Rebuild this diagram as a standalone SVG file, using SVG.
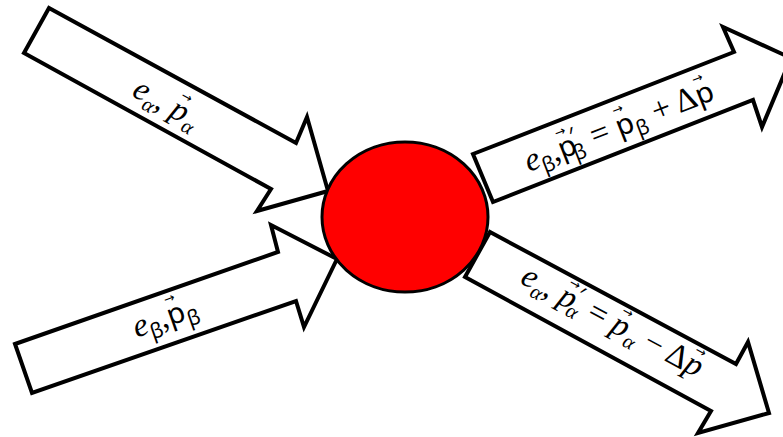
<svg xmlns="http://www.w3.org/2000/svg" width="783" height="437" viewBox="0 0 783 437">
<style>
.arr{fill:#fff;stroke:#000;stroke-width:4;stroke-linejoin:miter;stroke-miterlimit:10}
.lbl{font-family:"Liberation Serif","DejaVu Serif",serif;font-size:33px;fill:#000}
.it{font-style:italic}
.up{font-family:"Noto Sans","Open Sans",sans-serif;font-style:normal;font-size:29px}
.sub{font-size:21px}
.vec{font-family:"DejaVu Sans",sans-serif;font-style:normal;font-size:13px}
.pr{font-family:"Noto Sans",sans-serif;font-style:normal;font-size:23px}
</style>
<rect width="783" height="437" fill="#fff"/>
<g id="connectors">
<g id="arrow-in-alpha">
<polygon class="arr" points="49,8 296,143 307,117 328,191 257,211 271,189 24,53"/>
<text class="lbl" text-anchor="middle" transform="translate(165,106) rotate(28.7)" y="7"><tspan class="it">e</tspan><tspan class="it sub" dy="7">α</tspan><tspan dy="-7">, </tspan><tspan class="it">p</tspan><tspan class="vec" dx="-14" dy="-21">→</tspan><tspan class="it sub" dx="4" dy="28">α</tspan></text>
</g>
<g id="arrow-in-beta">
<polygon class="arr" points="15,344 278,252 271,225 337,259 304,327 296,301 32,393"/>
<text class="lbl" text-anchor="middle" transform="translate(166,320) rotate(-19.3)" y="7"><tspan class="it">e</tspan><tspan class="up sub" dy="7">β</tspan><tspan dy="-7">,</tspan><tspan class="up">p</tspan><tspan class="vec" dx="-15.5" dy="-22">→</tspan><tspan class="up sub" dx="5" dy="29">β</tspan></text>
</g>
<g id="arrow-out-beta">
<polygon class="arr" points="473,154 734,52 723,27 791,58 762,127 753,100 493,202"/>
<text class="lbl" text-anchor="middle" transform="translate(620,129) rotate(-21.3)" y="7"><tspan class="it">e</tspan><tspan class="up sub" dy="7">β</tspan><tspan dy="-7">,</tspan><tspan class="up">p</tspan><tspan class="vec" dx="-15.5" dy="-22">→</tspan><tspan class="pr" dx="2" dy="12">′</tspan><tspan class="up sub" dx="-8" dy="17">β</tspan><tspan dy="-7" dx="1"> = </tspan><tspan class="up">p</tspan><tspan class="vec" dx="-15.5" dy="-22">→</tspan><tspan class="up sub" dx="5" dy="29">β</tspan><tspan dy="-7"> + Δ</tspan><tspan class="up">p</tspan><tspan class="vec" dx="-15.5" dy="-22">→</tspan></text>
</g>
<g id="arrow-out-alpha">
<polygon class="arr" points="490,232 736,364 748,342 769,413 698,433 711,411 465,277"/>
<text class="lbl" text-anchor="middle" transform="translate(611,324) rotate(28.2)" y="7"><tspan class="it">e</tspan><tspan class="it sub" dy="7">α</tspan><tspan dy="-7">, </tspan><tspan class="it">p</tspan><tspan class="vec" dx="-14" dy="-21">→</tspan><tspan class="pr" dx="2" dy="11">′</tspan><tspan class="it sub" dx="-8" dy="17">α</tspan><tspan dy="-7" dx="1"> = </tspan><tspan class="it">p</tspan><tspan class="vec" dx="-14" dy="-21">→</tspan><tspan class="it sub" dx="4" dy="28">α</tspan><tspan dy="-7"> − Δ</tspan><tspan class="it">p</tspan><tspan class="vec" dx="-14" dy="-21">→</tspan></text>
</g>
</g>
<g id="particle">
<ellipse cx="405" cy="217" rx="83" ry="75" fill="#ff0000" stroke="#000" stroke-width="3"/>
</g>
</svg>
